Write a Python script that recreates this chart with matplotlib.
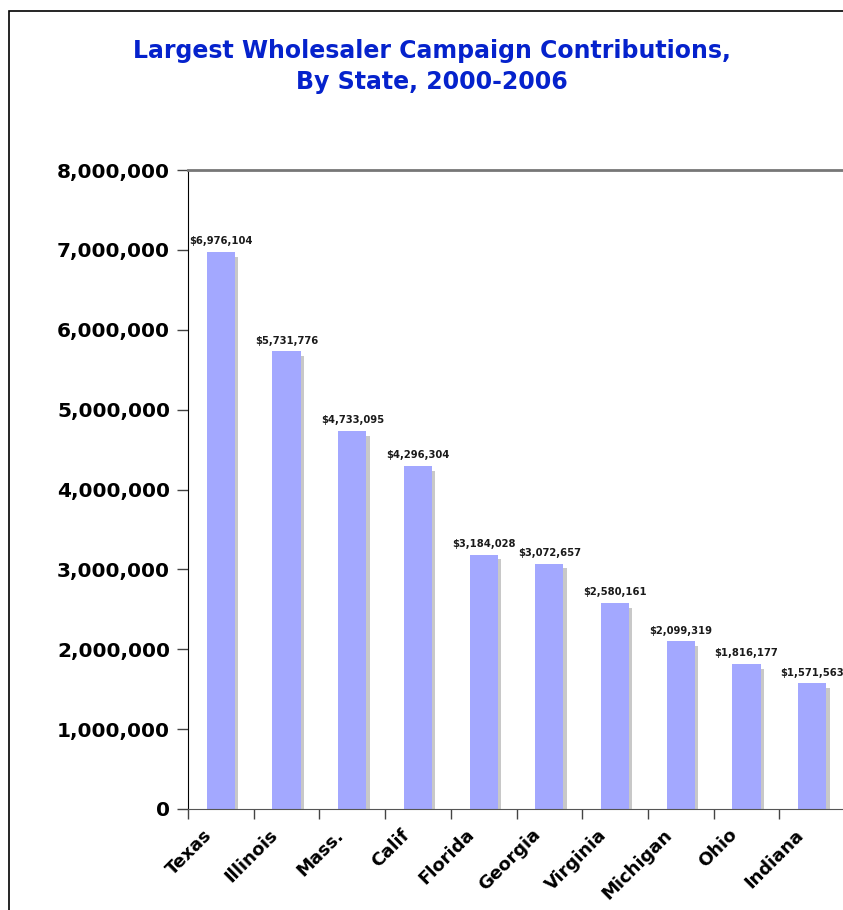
import numpy as np
import matplotlib
matplotlib.use("Agg")
import matplotlib.pyplot as plt
import matplotlib.ticker as ticker
import matplotlib.transforms as mtransforms
from matplotlib.patches import Rectangle

states = ["Texas", "Illinois", "Mass.", "Calif", "Florida",
          "Georgia", "Virginia", "Michigan", "Ohio", "Indiana"]
contributions = [6976104, 5731776, 4733095, 4296304, 3184028,
                 3072657, 2580161, 2099319, 1816177, 1571563]
y_ticks = [0, 1000000, 2000000, 3000000, 4000000,
           5000000, 6000000, 7000000, 8000000]

W, H = 843, 910
fig = plt.figure(figsize=(W / 100, H / 100), dpi=100)

# outer frame of the original picture
fig.add_artist(Rectangle((9 / W, -0.01), 1.1, 1 - 11 / H + 0.01,
                         transform=fig.transFigure, fill=False,
                         edgecolor="black", linewidth=1.2))

ax = fig.add_axes([188 / W, 1 - 809 / H, (845 - 188) / W, (809 - 170) / H])

x = np.arange(len(states))
bar_w = 0.43

# grey shadow on the right of each bar
ax.bar(x + 0.05, np.array(contributions) - 60000, width=bar_w,
       color="#c8c8c8", zorder=1)
ax.bar(x, contributions, width=bar_w, color="#a3a8ff", zorder=2)

for xi, v in zip(x, contributions):
    ax.text(xi, v + 70000, f"${v:,}", ha="center", va="bottom",
            fontsize=7.2, fontweight="bold", color="#1a1a1a", zorder=3)

ax.set_xlim(-0.5, len(states) - 0.5)
ax.set_ylim(0, 8000000)
ax.set_yticks(y_ticks)
ax.yaxis.set_major_formatter(ticker.FuncFormatter(lambda v, _: f"{int(v):,}"))
ax.tick_params(axis="y", labelsize=14.5, length=8, width=1, pad=5,
               direction="out", color="#444444")
for lab in ax.get_yticklabels():
    lab.set_fontweight("bold")

# ticks between categories, labels at centres
ax.set_xticks(np.arange(-0.5, len(states), 1.0))
ax.set_xticklabels([])
ax.tick_params(axis="x", which="major", length=7, width=1, color="#444444")
ax.set_xticks(x, minor=True)
ax.set_xticklabels(states, minor=True, rotation=45, ha="right",
                   rotation_mode="anchor", fontsize=13, fontweight="bold")
ax.tick_params(axis="x", which="minor", length=0, pad=12)
shift = mtransforms.ScaledTranslation(-18 / 100, 0, fig.dpi_scale_trans)
for lab in ax.get_xticklabels(minor=True):
    lab.set_transform(lab.get_transform() + shift)

ax.spines["left"].set_color("black")
ax.spines["bottom"].set_color("#555555")
ax.spines["top"].set_color("#777777")
ax.spines["top"].set_linewidth(2)
ax.spines["right"].set_visible(False)

fig.text(432 / W, 1 - 51 / H, "Largest Wholesaler Campaign Contributions,",
         ha="center", va="center", fontsize=17, fontweight="bold",
         color="#0522cc")
fig.text(432 / W, 1 - 82 / H, "By State, 2000-2006",
         ha="center", va="center", fontsize=17, fontweight="bold",
         color="#0522cc")

fig.savefig("out.png", dpi=100)
